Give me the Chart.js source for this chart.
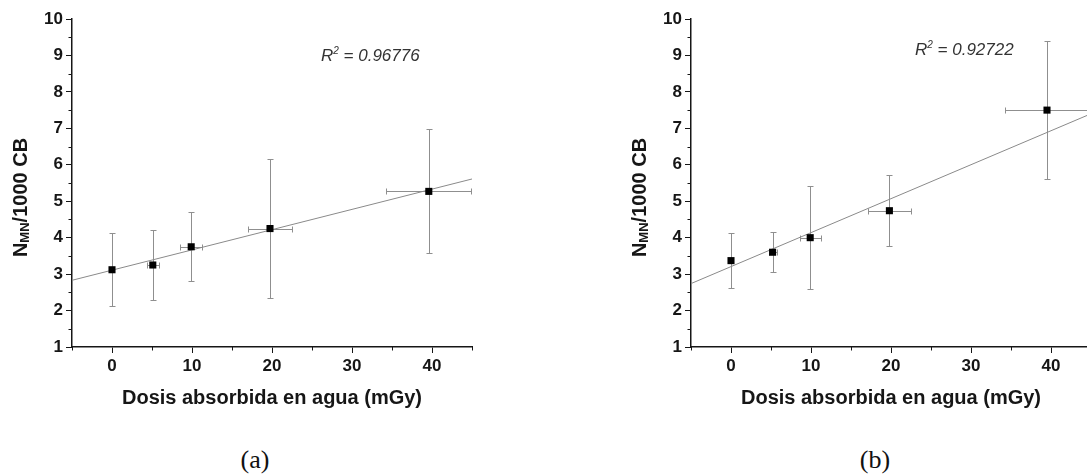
<!DOCTYPE html>
<html>
<head>
<meta charset="utf-8">
<script src="https://cdn.jsdelivr.net/npm/chart.js@4.4.1/dist/chart.umd.min.js"></script>
<style>
  html, body { margin: 0; padding: 0; background: #fff; width: 1087px; height: 476px; overflow: hidden; position: relative; }
  canvas { position: absolute; top: 0; }
  #chartA { left: 0; }
  #chartB { left: 619px; }
  .cap { position: absolute; top: 447px; width: 80px; margin-left: -40px; text-align: center;
         font: 26px/26px "Liberation Serif", "Times New Roman", serif; color: #111; }
</style>
</head>
<body>
<canvas id="chartA" width="540" height="420"></canvas>
<canvas id="chartB" width="540" height="420"></canvas>
<div class="cap" style="left:255px">(a)</div>
<div class="cap" style="left:875px">(b)</div>
<script>
// Labelled ticks on both axes
const xTickLabels = ['0', '10', '20', '30', '40'];
const yTickLabels = ['1', '2', '3', '4', '5', '6', '7', '8', '9', '10'];

// Panel (a): dose (mGy), micronuclei per 1000 CB and their uncertainties
const doseA    = [0, 5.1, 9.9, 19.75, 39.6];
const mnA      = [3.12, 3.25, 3.75, 4.25, 5.27];
const mnErrA   = [1.0, 0.96, 0.95, 1.9, 1.7];
const doseErrA = [0, 0.75, 1.4, 2.75, 5.3];
const fitDoseA = [-5, 45];
const fitMnA   = [2.83, 5.61];
const r2A      = '0.96776';

// Panel (b)
const doseB    = [0, 5.2, 9.9, 19.8, 39.5];
const mnB      = [3.37, 3.6, 4.0, 4.74, 7.5];
const mnErrB   = [0.76, 0.55, 1.42, 0.97, 1.9];
const doseErrB = [0, 0.5, 1.3, 2.65, 5.2];
const fitDoseB = [-5, 45];
const fitMnB   = [2.74, 7.40];
const r2B      = '0.92722';

const FONT = '"Liberation Sans", Arial, Helvetica, sans-serif';
const INK = '#161616';
const isMajorX = v => xTickLabels.includes(String(v));
const isMajorY = v => yTickLabels.includes(String(v));

// Error bars, minor ticks, rotated y title with subscript, R² note
const panelDecor = {
  id: 'panelDecor',
  beforeDatasetsDraw(chart, args, o) {
    const { ctx, scales: { x, y } } = chart;
    const snap = v => Math.round(v) + 0.5;
    ctx.save();
    ctx.strokeStyle = '#8f8f8f';
    ctx.lineWidth = 1;
    ctx.beginPath();
    o.dose.forEach((d, i) => {
      const px = snap(x.getPixelForValue(d));
      const py = snap(y.getPixelForValue(o.mn[i]));
      const top = snap(y.getPixelForValue(o.mn[i] + o.mnErr[i]));
      const bot = snap(y.getPixelForValue(o.mn[i] - o.mnErr[i]));
      ctx.moveTo(px, top); ctx.lineTo(px, bot);
      ctx.moveTo(px - 3, top); ctx.lineTo(px + 3, top);
      ctx.moveTo(px - 3, bot); ctx.lineTo(px + 3, bot);
      if (o.doseErr[i] > 0) {
        const l = snap(x.getPixelForValue(d - o.doseErr[i]));
        const r = snap(x.getPixelForValue(d + o.doseErr[i]));
        ctx.moveTo(l, py); ctx.lineTo(r, py);
        ctx.moveTo(l, py - 3); ctx.lineTo(l, py + 3);
        ctx.moveTo(r, py - 3); ctx.lineTo(r, py + 3);
      }
    });
    ctx.stroke();
    ctx.restore();
  },
  afterDraw(chart, args, o) {
    const { ctx, scales: { x, y } } = chart;
    ctx.save();
    // short minor ticks
    ctx.strokeStyle = INK;
    ctx.lineWidth = 1;
    ctx.beginPath();
    x.ticks.forEach(t => {
      if (!isMajorX(t.value)) {
        const px = Math.round(x.getPixelForValue(t.value)) + 0.5;
        ctx.moveTo(px, y.bottom); ctx.lineTo(px, y.bottom + 3.5);
      }
    });
    y.ticks.forEach(t => {
      if (!isMajorY(t.value)) {
        const py = Math.round(y.getPixelForValue(t.value)) + 0.5;
        ctx.moveTo(x.left, py); ctx.lineTo(x.left - 3.5, py);
      }
    });
    ctx.stroke();

    // y-axis title: N with small MN, then /1000 CB
    const big = `bold 20px ${FONT}`, small = `bold 13px ${FONT}`;
    ctx.fillStyle = INK;
    ctx.textBaseline = 'alphabetic';
    ctx.textAlign = 'left';
    ctx.font = big;  const w1 = ctx.measureText('N').width;
    ctx.font = small; const w2 = ctx.measureText('MN').width;
    ctx.font = big;  const w3 = ctx.measureText('/1000 CB').width;
    const total = w1 + w2 + w3;
    ctx.save();
    ctx.translate(20, (y.top + y.bottom) / 2 + 14.5);
    ctx.rotate(-Math.PI / 2);
    let cx = -total / 2;
    ctx.font = big;  ctx.fillText('N', cx, 7); cx += w1;
    ctx.font = small; ctx.fillText('MN', cx, 8.5); cx += w2;
    ctx.font = big;  ctx.fillText('/1000 CB', cx, 7);
    ctx.restore();

    // coefficient of determination
    ctx.fillStyle = '#333';
    let rx = o.r2X;
    ctx.font = `italic 17px ${FONT}`;
    ctx.fillText('R', rx, o.r2Y); rx += ctx.measureText('R').width;
    ctx.font = `italic 10px ${FONT}`;
    ctx.fillText('2', rx, o.r2Y - 7); rx += ctx.measureText('2').width;
    ctx.font = `italic 17px ${FONT}`;
    ctx.fillText(' = ' + o.r2, rx, o.r2Y);
    ctx.restore();
  }
};

function buildPanel(canvasId, dose, mn, mnErr, doseErr, fitDose, fitMn, r2, r2X, r2Y) {
  const points = dose.map((d, i) => ({ x: d, y: mn[i] }));
  const fit = fitDose.map((d, i) => ({ x: d, y: fitMn[i] }));
  return new Chart(document.getElementById(canvasId), {
    type: 'scatter',
    data: {
      datasets: [
        { data: points, pointStyle: 'rect', pointRadius: 5, pointHoverRadius: 5,
          backgroundColor: '#000', borderWidth: 0, showLine: false },
        { data: fit, showLine: true, borderColor: '#8a8a8a', borderWidth: 1,
          pointRadius: 0, pointHoverRadius: 0, fill: false, tension: 0 }
      ]
    },
    options: {
      responsive: false,
      animation: false,
      events: [],
      layout: { padding: { top: 19, right: 68, left: 0, bottom: 0 } },
      plugins: {
        legend: { display: false },
        tooltip: { enabled: false },
        panelDecor: { dose, mn, mnErr, doseErr, r2, r2X, r2Y }
      },
      scales: {
        x: {
          type: 'linear', min: -5, max: 45,
          afterFit: s => { s.height = 73; },
          border: { display: true, color: INK, width: 1.5 },
          grid: { drawOnChartArea: false, drawTicks: true, tickLength: 6, tickWidth: 1,
                  tickColor: c => (c.tick && isMajorX(c.tick.value)) ? INK : 'rgba(0,0,0,0)' },
          ticks: { stepSize: 5, autoSkip: false, maxRotation: 0, padding: 3, color: INK,
                   font: { family: FONT, size: 17, weight: 'bold' },
                   callback: v => isMajorX(v) ? String(v) : '' },
          title: { display: true, text: 'Dosis absorbida en agua (mGy)', color: INK,
                   font: { family: FONT, size: 20, weight: 'bold' },
                   padding: { top: 0, bottom: 10 } }
        },
        y: {
          type: 'linear', min: 1, max: 10,
          afterFit: s => { s.width = 72; },
          border: { display: true, color: INK, width: 1.5 },
          grid: { drawOnChartArea: false, drawTicks: true, tickLength: 6, tickWidth: 1,
                  tickColor: c => (c.tick && isMajorY(c.tick.value)) ? INK : 'rgba(0,0,0,0)' },
          ticks: { stepSize: 0.5, autoSkip: false, padding: 3, color: INK,
                   font: { family: FONT, size: 17, weight: 'bold' },
                   callback: v => isMajorY(v) ? String(v) : '' }
        }
      }
    },
    plugins: [panelDecor]
  });
}

buildPanel('chartA', doseA, mnA, mnErrA, doseErrA, fitDoseA, fitMnA, r2A, 321, 61);
buildPanel('chartB', doseB, mnB, mnErrB, doseErrB, fitDoseB, fitMnB, r2B, 296, 55);
</script>
</body>
</html>
